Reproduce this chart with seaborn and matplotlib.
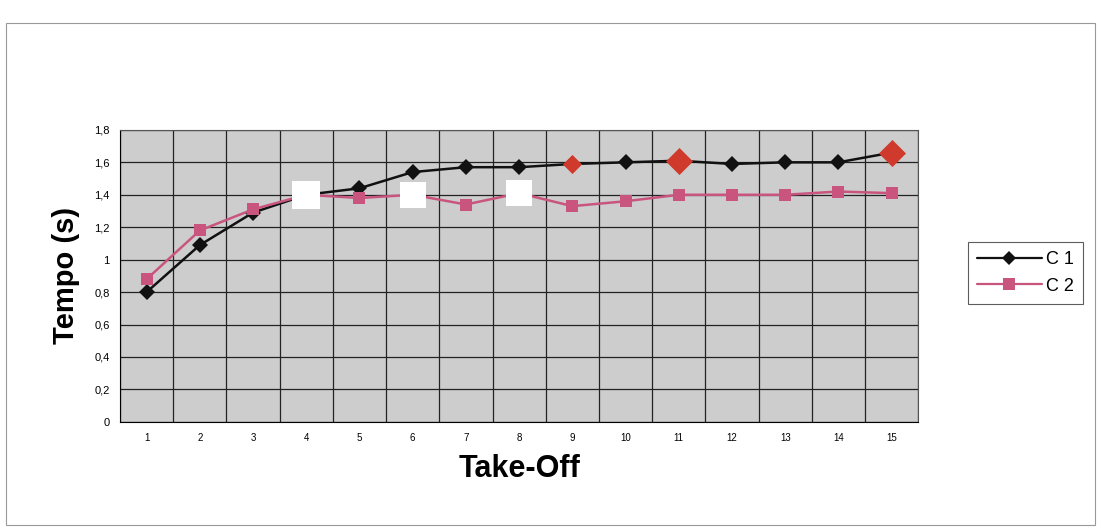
import numpy as np
import pandas as pd
import matplotlib
matplotlib.use("Agg")
import matplotlib.pyplot as plt
from matplotlib.patches import Rectangle
from matplotlib.ticker import FuncFormatter, FixedLocator
from matplotlib.lines import Line2D
import seaborn as sns

take_off = list(range(1, 16))
c1 = [0.80, 1.09, 1.29, 1.40, 1.44, 1.54, 1.57, 1.57, 1.59, 1.60, 1.61, 1.59, 1.60, 1.60, 1.66]
c2 = [0.88, 1.18, 1.31, 1.40, 1.38, 1.40, 1.34, 1.41, 1.33, 1.36, 1.40, 1.40, 1.40, 1.42, 1.41]
series_names = ["C 1", "C 2"]
white_pts = [4, 6, 8]          # C2 points drawn as white squares
red_small = [9]                # C1 points drawn as red diamonds
red_large = [11, 15]

sns.set_style("white")
plt.rcParams['font.family'] = ['Liberation Sans', 'DejaVu Sans']
plt.rcParams['text.color'] = 'black'
plt.rcParams['axes.labelcolor'] = 'black'
plt.rcParams['xtick.color'] = 'black'
plt.rcParams['ytick.color'] = 'black'

df = pd.DataFrame({"Take-Off": take_off * 2,
                   "Tempo": c1 + c2,
                   "Serie": [series_names[0]] * 15 + [series_names[1]] * 15})

fig = plt.figure(figsize=(11.01, 5.28), dpi=100)
fig.patch.set_facecolor('white')
ax = fig.add_axes([0.109, 0.201, 0.725, 0.553])
ax.set_facecolor('#cdcdcd')

palette = {"C 1": "#111111", "C 2": "#c9557f"}
sns.lineplot(data=df, x="Take-Off", y="Tempo", hue="Serie", style="Serie",
             markers={"C 1": "D", "C 2": "s"}, dashes=False, palette=palette,
             markersize=8, markeredgewidth=0, linewidth=1.8, ax=ax, legend=False)

# special data-point formatting
w = [c2[i - 1] for i in white_pts]
ax.scatter(white_pts, w, marker='s', s=330, color='white', zorder=5, linewidths=0)
ax.scatter([4], [c1[3]], marker='s', s=420, color='white', zorder=5, linewidths=0)
ax.scatter(red_small, [c1[i - 1] for i in red_small], marker='D', s=95, color='#cf3a2c', zorder=5, linewidths=0)
ax.scatter(red_large, [c1[i - 1] for i in red_large], marker='D', s=190, color='#cf3a2c', zorder=5, linewidths=0)

ax.set_xlim(0.5, 15.5)
ax.set_ylim(0, 1.8)
ax.set_yticks(np.arange(0, 1.81, 0.2))
ax.yaxis.set_major_formatter(FuncFormatter(lambda v, p: ("%g" % round(v, 1)).replace('.', ',')))
ax.set_xticks(take_off)
ax.xaxis.set_minor_locator(FixedLocator(np.arange(0.5, 15.6, 1)))
ax.tick_params(axis='x', which='major', length=0, labelsize=7, pad=8)
ax.tick_params(axis='x', which='minor', length=4, color='black', direction='out')
ax.tick_params(axis='y', which='major', length=4, color='black', labelsize=8, direction='out')
ax.grid(True, which='major', axis='y', color='#222222', linewidth=0.9)
ax.grid(True, which='minor', axis='x', color='#222222', linewidth=0.9)
ax.set_axisbelow(True)
for s in ax.spines.values():
    s.set_color('#555555')
    s.set_linewidth(0.8)
ax.spines['left'].set_color('black')
ax.spines['bottom'].set_color('black')

ax.set_xlabel("Take-Off", fontsize=22, fontweight='bold', labelpad=8)
ax.set_ylabel("Tempo (s)", fontsize=21, fontweight='bold', labelpad=10)

handles = [Line2D([], [], color="#111111", marker='D', markersize=7, linewidth=1.6, markeredgewidth=0),
           Line2D([], [], color="#c9557f", marker='s', markersize=8, linewidth=1.6, markeredgewidth=0)]
leg = fig.legend(handles, series_names, loc='upper left', bbox_to_anchor=(0.879, 0.542),
                 frameon=True, fancybox=False, fontsize=13, handlelength=3.6,
                 handletextpad=0.25, borderpad=0.5, labelspacing=0.55, borderaxespad=0)
leg.get_frame().set_edgecolor('#333333')
leg.get_frame().set_linewidth(0.8)

fig.patches.append(Rectangle((0.005, 0.006), 0.99, 0.95, transform=fig.transFigure,
                             fill=False, edgecolor='#999999', linewidth=0.8))

fig.savefig("out.png", dpi=100)
